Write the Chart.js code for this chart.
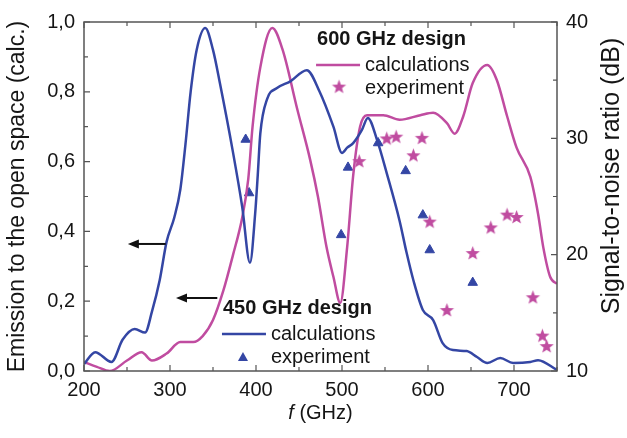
<!DOCTYPE html>
<html><head><meta charset="utf-8">
<script src="https://cdn.jsdelivr.net/npm/chart.js@4"></script>
<style>html,body{margin:0;padding:0;background:#fff}#wrap{width:627px;height:438px}</style>
</head><body><div id="wrap"><canvas id="c" width="627" height="438"></canvas></div>
<script>
// ---- data ----
const xTickValues = [200, 300, 400, 500, 600, 700];
const xTickLabels = ['200', '300', '400', '500', '600', '700'];
const yLeftTicks = [0, 0.2, 0.4, 0.6, 0.8, 1.0];
const yLeftLabels = ['0,0', '0,2', '0,4', '0,6', '0,8', '1,0'];
const yRightTicks = [10, 20, 30, 40];
const yRightLabels = ['10', '20', '30', '40'];

// 450 GHz design, calculations (left axis)
const calc450x = [200, 213, 232, 245, 259, 271, 279, 288, 296, 305, 312, 318, 324, 331, 341, 350, 358, 373, 384, 393, 399, 402, 405, 413, 424, 440, 459, 474, 490, 500, 506, 513, 523, 530, 541, 552, 567, 575, 583, 594, 606, 617, 629, 645, 657, 669, 684, 699, 719, 728, 750];
const calc450y = [0.02, 0.054, 0.026, 0.09, 0.12, 0.11, 0.17, 0.26, 0.37, 0.44, 0.52, 0.65, 0.80, 0.92, 0.983, 0.92, 0.825, 0.63, 0.47, 0.31, 0.45, 0.56, 0.68, 0.78, 0.81, 0.83, 0.862, 0.80, 0.70, 0.625, 0.64, 0.653, 0.69, 0.725, 0.66, 0.567, 0.43, 0.34, 0.26, 0.175, 0.146, 0.08, 0.06, 0.057, 0.04, 0.023, 0.037, 0.023, 0.026, 0.031, 0.003];

// 600 GHz design, calculations (left axis)
const calc600x = [200, 215, 230, 250, 267, 279, 296, 312, 327, 338, 350, 362, 373, 384, 391, 396, 405, 419, 431, 448, 463, 472, 482, 490, 498, 506, 513, 521, 529, 548, 567, 591, 606, 622, 631, 641, 652, 669, 680, 692, 703, 719, 728, 734, 742, 750];
const calc600y = [0.026, 0.012, 0.0, 0.03, 0.054, 0.03, 0.05, 0.083, 0.083, 0.10, 0.146, 0.23, 0.33, 0.44, 0.55, 0.70, 0.87, 0.983, 0.92, 0.75, 0.605, 0.5, 0.355, 0.27, 0.195, 0.355, 0.56, 0.70, 0.733, 0.733, 0.72, 0.733, 0.74, 0.71, 0.68, 0.73, 0.825, 0.877, 0.834, 0.73, 0.64, 0.556, 0.45, 0.355, 0.27, 0.25];

// 450 GHz design, experiment (right axis, dB)
const exp450x = [388, 392, 499, 507, 542, 574, 594, 602, 652];
const exp450y = [29.9, 25.3, 21.7, 27.5, 29.6, 27.2, 23.4, 20.4, 17.6];

// 600 GHz design, experiment (right axis, dB)
const exp600x = [520, 552, 563, 583, 593, 602, 622, 652, 673, 692, 703, 722, 733, 738];
const exp600y = [28.0, 29.95, 30.1, 28.5, 30.0, 22.8, 15.2, 20.1, 22.3, 23.4, 23.2, 16.3, 13.0, 12.1];

// ---- styles ----
const BLUE = '#3446a4';
const PINK = '#c04ca0';
const FONT = '"Liberation Sans", Arial, sans-serif';
const TXT = '#151515';

function makeStar(r, color) {
  const c = document.createElement('canvas');
  const s = Math.ceil(r * 2 + 2);
  c.width = s; c.height = s;
  const g = c.getContext('2d');
  g.fillStyle = color;
  g.beginPath();
  for (let i = 0; i < 10; i++) {
    const rr = i % 2 === 0 ? r : r * 0.42;
    const a = -Math.PI / 2 + i * Math.PI / 5;
    const px = s / 2 + rr * Math.cos(a), py = s / 2 + rr * Math.sin(a);
    if (i === 0) g.moveTo(px, py); else g.lineTo(px, py);
  }
  g.closePath(); g.fill();
  return c;
}
const starImg = makeStar(7.5, PINK);

const pts = (xs, ys) => xs.map((x, i) => ({x: x, y: ys[i]}));

const decor = {
  id: 'decor',
  afterDraw(chart) {
    const ctx = chart.ctx;
    const a = chart.chartArea;
    const sx = chart.scales.x, sy = chart.scales.y, sy1 = chart.scales.y1;
    ctx.save();
    // frame
    ctx.strokeStyle = '#555';
    ctx.lineWidth = 1.5;
    ctx.strokeRect(a.left, a.top, a.right - a.left, a.bottom - a.top);
    // ticks
    ctx.lineWidth = 1.2;
    ctx.beginPath();
    for (let v = 200; v <= 750; v += 50) {
      const px = sx.getPixelForValue(v);
      const L = v % 100 === 0 ? 6 : 4;
      ctx.moveTo(px, a.bottom); ctx.lineTo(px, a.bottom - L);
      ctx.moveTo(px, a.top); ctx.lineTo(px, a.top + L);
    }
    for (let i = 0; i <= 10; i++) {
      const py = sy.getPixelForValue(i / 10);
      const L = i % 2 === 0 ? 6 : 4;
      ctx.moveTo(a.left, py); ctx.lineTo(a.left + L, py);
    }
    for (let v = 10; v <= 40; v += 5) {
      const py = sy1.getPixelForValue(v);
      const L = v % 10 === 0 ? 6 : 4;
      ctx.moveTo(a.right, py); ctx.lineTo(a.right - L, py);
    }
    ctx.stroke();

    // arrows
    function arrow(x0, x1, yv) {
      const p0 = sx.getPixelForValue(x0), p1 = sx.getPixelForValue(x1), py = sy.getPixelForValue(yv);
      ctx.strokeStyle = '#111'; ctx.fillStyle = '#111'; ctx.lineWidth = 2;
      ctx.beginPath(); ctx.moveTo(p0, py); ctx.lineTo(p1 + 8, py); ctx.stroke();
      ctx.beginPath(); ctx.moveTo(p1, py); ctx.lineTo(p1 + 11, py - 4.5); ctx.lineTo(p1 + 11, py + 4.5); ctx.closePath(); ctx.fill();
    }
    arrow(295, 251, 0.364);
    arrow(355, 307, 0.209);

    // legends
    ctx.textBaseline = 'middle';
    ctx.textAlign = 'left';
    function legend(xv, yv, title, color, marker) {
      const x = sx.getPixelForValue(xv), y = sy.getPixelForValue(yv);
      ctx.fillStyle = TXT;
      ctx.font = 'bold 20px ' + FONT;
      ctx.fillText(title, x, y);
      ctx.strokeStyle = color; ctx.lineWidth = 2.5;
      ctx.beginPath(); ctx.moveTo(x - 1, y + 26); ctx.lineTo(x + 43, y + 26); ctx.stroke();
      ctx.font = '20px ' + FONT;
      ctx.fillStyle = TXT;
      ctx.fillText('calculations', x + 48, y + 26);
      ctx.fillText('experiment', x + 48, y + 49);
      if (marker === 'star') {
        ctx.drawImage(starImg, x + 22 - starImg.width / 2, y + 48 - starImg.height / 2);
      } else {
        ctx.fillStyle = color;
        ctx.beginPath(); ctx.moveTo(x + 20, y + 44); ctx.lineTo(x + 25, y + 53); ctx.lineTo(x + 15, y + 53); ctx.closePath(); ctx.fill();
      }
    }
    legend(471, 0.951, '600 GHz design', PINK, 'star');
    legend(361.6, 0.1805, '450 GHz design', BLUE, 'tri');

    // x title
    ctx.fillStyle = TXT;
    ctx.textBaseline = 'middle';
    ctx.font = 'italic 20px ' + FONT;
    const fW = ctx.measureText('f').width;
    ctx.font = '20px ' + FONT;
    const restW = ctx.measureText(' (GHz)').width;
    const cx = (a.left + a.right) / 2;
    const x0 = cx - (fW + restW) / 2;
    ctx.font = 'italic 20px ' + FONT;
    ctx.fillText('f', x0, 413);
    ctx.font = '20px ' + FONT;
    ctx.fillText(' (GHz)', x0 + fW, 413);

    // right axis title (reads bottom to top)
    ctx.save();
    ctx.translate(612, 176);
    ctx.rotate(-Math.PI / 2);
    ctx.textAlign = 'center';
    ctx.textBaseline = 'middle';
    ctx.font = '25px ' + FONT;
    ctx.fillStyle = TXT;
    ctx.fillText('Signal-to-noise ratio (dB)', 0, 0);
    ctx.restore();
    ctx.restore();
  }
};

new Chart(document.getElementById('c'), {
  type: 'line',
  data: {
    datasets: [
      {label: '450 GHz calculations', data: pts(calc450x, calc450y), yAxisID: 'y', borderColor: BLUE, borderWidth: 2.5, pointRadius: 0, fill: false, cubicInterpolationMode: 'monotone'},
      {label: '600 GHz calculations', data: pts(calc600x, calc600y), yAxisID: 'y', borderColor: PINK, borderWidth: 2.5, pointRadius: 0, fill: false, cubicInterpolationMode: 'monotone'},
      {label: '450 GHz experiment', data: pts(exp450x, exp450y), yAxisID: 'y1', showLine: false, pointStyle: 'triangle', pointRadius: 5.5, backgroundColor: BLUE, borderColor: BLUE, borderWidth: 1},
      {label: '600 GHz experiment', data: pts(exp600x, exp600y), yAxisID: 'y1', showLine: false, pointStyle: starImg, pointRadius: 7, backgroundColor: PINK, borderColor: PINK}
    ]
  },
  options: {
    responsive: false,
    animation: false,
    devicePixelRatio: 1,
    layout: {padding: {top: 22, left: 0, right: 0, bottom: 0}},
    plugins: {legend: {display: false}, tooltip: {enabled: false}},
    scales: {
      x: {
        type: 'linear', min: 200, max: 750, position: 'bottom',
        afterBuildTicks: s => { s.ticks = xTickValues.map(v => ({value: v})); },
        afterFit: s => { s.height = 67; },
        ticks: {callback: (v) => xTickLabels[xTickValues.indexOf(v)], font: {size: 20, family: FONT}, color: TXT, padding: 7, maxRotation: 0, autoSkip: false},
        grid: {display: false, drawTicks: false},
        border: {display: false}
      },
      y: {
        type: 'linear', min: 0, max: 1, position: 'left',
        afterBuildTicks: s => { s.ticks = yLeftTicks.map(v => ({value: v})); },
        afterFit: s => { s.width = 84; },
        ticks: {callback: (v) => yLeftLabels[yLeftTicks.findIndex(t => Math.abs(t - v) < 1e-9)], font: {size: 20, family: FONT}, color: TXT, padding: 9, autoSkip: false},
        grid: {display: false, drawTicks: false},
        border: {display: false},
        title: {display: true, text: 'Emission to the open space (calc.)', font: {size: 23, family: FONT}, color: TXT, padding: {top: 4, bottom: 0}}
      },
      y1: {
        type: 'linear', min: 10, max: 40, position: 'right',
        afterBuildTicks: s => { s.ticks = yRightTicks.map(v => ({value: v})); },
        afterFit: s => { s.width = 70; },
        ticks: {callback: (v) => yRightLabels[yRightTicks.indexOf(v)], font: {size: 20, family: FONT}, color: TXT, padding: 9, autoSkip: false},
        grid: {display: false, drawTicks: false},
        border: {display: false},
        title: {display: false}
      }
    }
  },
  plugins: [decor]
});
</script>
</body></html>
